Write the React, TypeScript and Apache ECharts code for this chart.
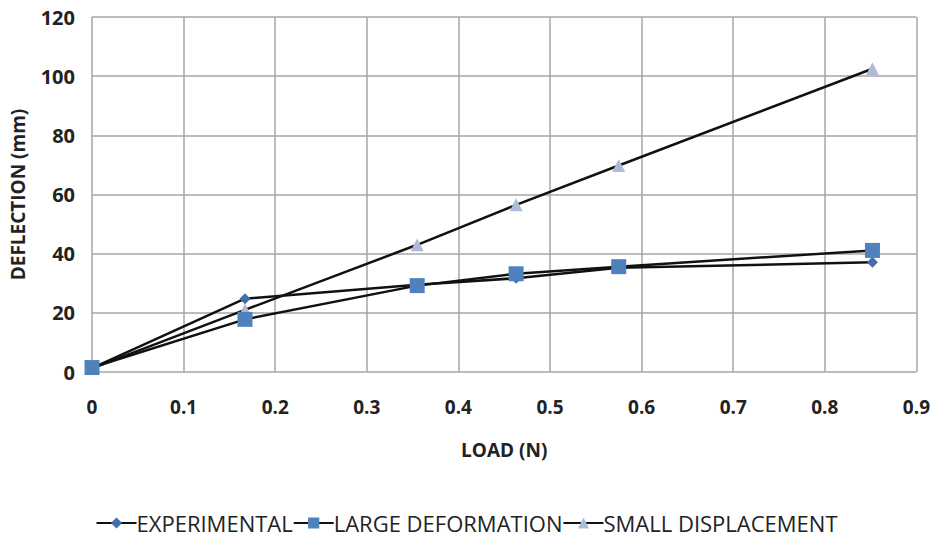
import React, { useEffect, useRef } from "react";
import * as echarts from "echarts";

const loads = [0, 0.167, 0.355, 0.463, 0.575, 0.852];
const experimental = [1.3, 24.8, 29.5, 31.7, 35.2, 37.1];
const largeDeformation = [1.5, 17.8, 29.2, 33.2, 35.6, 41.1];
const smallDisplacement = [1.2, 21, 43, 56.5, 69.8, 102.5];
const seriesNames = ["EXPERIMENTAL", "LARGE DEFORMATION", "SMALL DISPLACEMENT"];

const pairs = (ys: number[]) => loads.map((x, i) => [x, ys[i]]);

export default function App() {
  const ref = useRef<HTMLDivElement>(null);
  useEffect(() => {
    const chart = echarts.init(ref.current!, undefined, { renderer: "svg" });
    const font = "'Open Sans', sans-serif";
    chart.setOption({
      animation: false,
      backgroundColor: "#fff",
      grid: { left: 91, right: 15, top: 17, bottom: 169 },
      legend: {
        bottom: 2,
        left: "center",
        itemWidth: 40,
        itemHeight: 14,
        itemGap: 0,
        textStyle: { fontFamily: "'Liberation Sans Narrow', 'Open Sans', sans-serif", fontSize: 22, color: "#222", padding: [0, 0, 0, -5] },
        data: seriesNames,
      },
      xAxis: {
        type: "value",
        min: 0,
        max: 0.9,
        interval: 0.1,
        name: "LOAD (N)",
        nameLocation: "middle",
        nameGap: 68,
        nameTextStyle: { fontFamily: font, fontWeight: "bold", fontSize: 19, color: "#222" },
        axisLine: { show: false },
        axisTick: { show: false },
        axisLabel: { fontFamily: font, fontWeight: "bold", fontSize: 19, color: "#222", margin: 25 },
        splitLine: { show: true, lineStyle: { color: "#a6a6a6", width: 1.5 } },
      },
      yAxis: {
        type: "value",
        min: 0,
        max: 120,
        interval: 20,
        name: "DEFLECTION (mm)",
        nameLocation: "middle",
        nameGap: 65,
        nameTextStyle: { fontFamily: font, fontWeight: "bold", fontSize: 19, color: "#222" },
        axisLine: { show: false },
        axisTick: { show: false },
        axisLabel: { fontFamily: font, fontWeight: "bold", fontSize: 20, color: "#222", margin: 17 },
        splitLine: { show: true, lineStyle: { color: "#a6a6a6", width: 1.5 } },
      },
      series: [
        {
          name: seriesNames[0],
          type: "line",
          data: pairs(experimental),
          symbol: "diamond",
          symbolSize: 11,
          lineStyle: { color: "#111", width: 2.5 },
          itemStyle: { color: "#3f6ea8" },
          z: 3,
        },
        {
          name: seriesNames[1],
          type: "line",
          data: pairs(largeDeformation),
          symbol: "rect",
          symbolSize: 15,
          lineStyle: { color: "#111", width: 2.5 },
          itemStyle: { color: "#4f81bd" },
          z: 4,
        },
        {
          name: seriesNames[2],
          type: "line",
          data: pairs(smallDisplacement),
          symbol: "triangle",
          symbolSize: 13,
          lineStyle: { color: "#111", width: 2.5 },
          itemStyle: { color: "#aebbd8" },
          z: 2,
        },
      ],
    });
    return () => chart.dispose();
  }, []);
  return <div ref={ref} style={{ width: 933, height: 541, position: "absolute", left: 0, top: 0 }} />;
}
